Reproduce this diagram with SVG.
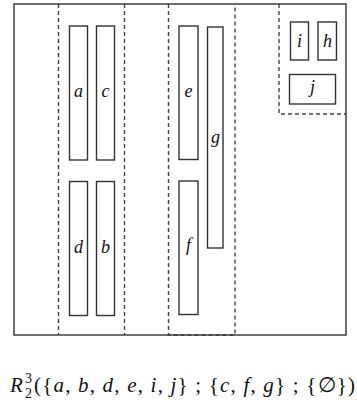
<svg xmlns="http://www.w3.org/2000/svg" width="357" height="404" viewBox="0 0 357 404">
<style>
.box{fill:none;stroke:#333;stroke-width:1.4}
.dash{fill:none;stroke:#444;stroke-width:1.4;stroke-dasharray:4,3}
.lbl{font-family:"Liberation Serif",serif;font-style:italic;font-size:18px;fill:#111;text-anchor:middle}
.f{font-family:"Liberation Serif",serif;font-size:21px;fill:#111}
.s{font-family:"Liberation Serif",serif;font-size:14px;fill:#111}
.it{font-style:italic}
</style>
<rect width="357" height="404" fill="#fff"/>
<g id="connectors">
<line class="dash" x1="58.5" y1="4" x2="58.5" y2="335"/>
<line class="dash" x1="124.5" y1="4" x2="124.5" y2="335"/>
<path class="dash" d="M168.5,4 V335 H235 V4"/>
<path class="dash" d="M279,4 V114 H346"/>
</g>
<g id="frame"><rect class="box" x="14" y="4" width="332" height="331"/></g>
<g id="a"><rect class="box" x="69.5" y="26" width="18" height="134"/><text class="lbl" x="78.5" y="97">a</text></g>
<g id="c"><rect class="box" x="96.5" y="26" width="18" height="134"/><text class="lbl" x="105.5" y="97">c</text></g>
<g id="d"><rect class="box" x="69.5" y="181.5" width="18" height="134"/><text class="lbl" x="78.5" y="253">d</text></g>
<g id="b"><rect class="box" x="96.5" y="181.5" width="18" height="134"/><text class="lbl" x="105.5" y="253">b</text></g>
<g id="e"><rect class="box" x="179" y="26" width="19" height="133.5"/><text class="lbl" x="188.5" y="97">e</text></g>
<g id="f"><rect class="box" x="179" y="181" width="19" height="133.5"/><text class="lbl" x="188.5" y="251">f</text></g>
<g id="g"><rect class="box" x="207.5" y="27" width="15.5" height="221"/><text class="lbl" x="215.5" y="143">g</text></g>
<g id="i"><rect class="box" x="290.5" y="22" width="18" height="38"/><text class="lbl" x="299.5" y="47">i</text></g>
<g id="h"><rect class="box" x="318" y="22" width="18.5" height="38"/><text class="lbl" x="327.5" y="47">h</text></g>
<g id="j"><rect class="box" x="289.5" y="74.5" width="46" height="29.5"/><text class="lbl" x="312.5" y="93">j</text></g>
<g id="formula">
<text class="f it" x="10" y="392" font-size="23">R</text>
<text class="s" x="25" y="398">2</text>
<text class="s" x="25" y="383">3</text>
<text class="f" x="34" y="392" textLength="321" lengthAdjust="spacing">({<tspan class="it">a</tspan>, <tspan class="it">b</tspan>, <tspan class="it">d</tspan>, <tspan class="it">e</tspan>, <tspan class="it">i</tspan>, <tspan class="it">j</tspan>} ; {<tspan class="it">c</tspan>, <tspan class="it">f</tspan>, <tspan class="it">g</tspan>} ; {∅})</text>
</g>
</svg>
